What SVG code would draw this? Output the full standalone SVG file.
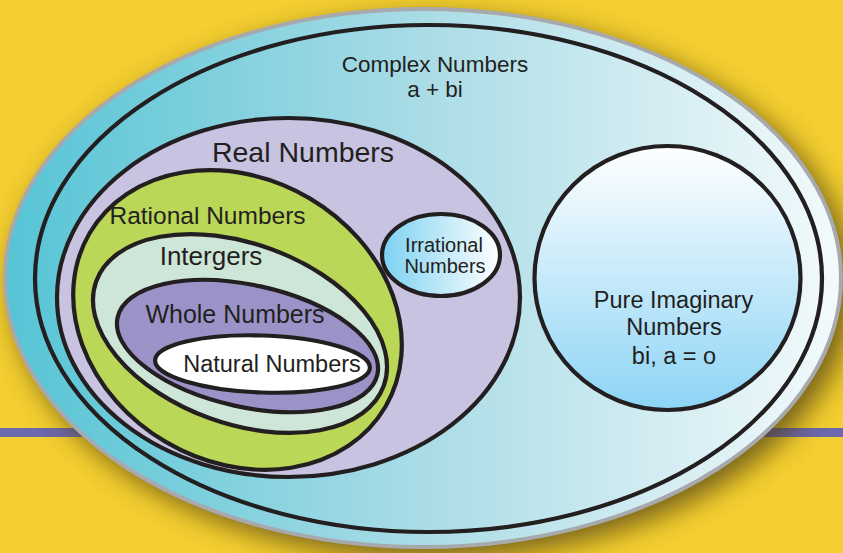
<svg xmlns="http://www.w3.org/2000/svg" width="843" height="553" viewBox="0 0 843 553">
  <defs>
    <linearGradient id="gComplex" x1="0" y1="0" x2="1" y2="0">
      <stop offset="0" stop-color="#55c4d5"/>
      <stop offset="0.5" stop-color="#aadce6"/>
      <stop offset="1" stop-color="#f3fafc"/>
    </linearGradient>
    <linearGradient id="gIrr" x1="0" y1="0" x2="1" y2="0">
      <stop offset="0" stop-color="#7cd1f2"/>
      <stop offset="1" stop-color="#ffffff"/>
    </linearGradient>
    <linearGradient id="gPure" x1="0" y1="0" x2="0" y2="1">
      <stop offset="0" stop-color="#ffffff"/>
      <stop offset="1" stop-color="#8dd4f5"/>
    </linearGradient>
    <filter id="shadow" x="-20%" y="-20%" width="140%" height="140%">
      <feGaussianBlur stdDeviation="14"/>
    </filter>
  </defs>
  <style>
    .ln { stroke: #231f20; stroke-width: 4.2; }
    .t { font-family: "Liberation Sans", Arial, sans-serif; fill: #231f20; text-anchor: middle; }
  </style>

  <rect x="0" y="0" width="843" height="553" fill="#f4cf31"/>
  <rect x="0" y="428" width="843" height="9" fill="#6c69ae"/>
  <ellipse cx="433" cy="288" rx="420" ry="270" fill="#4a3a08" opacity="0.75" filter="url(#shadow)"/>

  <g id="complex">
    <ellipse cx="423" cy="278" rx="418" ry="269" fill="url(#gComplex)" stroke="#a7a9ac" stroke-width="4"/>
    <ellipse class="ln" cx="428.5" cy="278.5" rx="393.5" ry="253.5" fill="none" stroke-width="4.6"/>
    <text class="t" x="435" y="72" font-size="22.5">Complex Numbers</text>
    <text class="t" x="435" y="97" font-size="22.5">a + bi</text>
  </g>

  <g id="real">
    <ellipse class="ln" cx="288.5" cy="297.5" rx="231.5" ry="179.5" fill="#c7c3e0"/>
    <text class="t" x="303" y="162" font-size="28.5">Real Numbers</text>
  </g>

  <g id="rational">
    <ellipse class="ln" cx="0" cy="0" rx="171.5" ry="141.5" fill="#bad757" transform="translate(237.5 320) rotate(30.5)"/>
    <text class="t" x="207.5" y="224" font-size="24.5">Rational Numbers</text>
  </g>

  <g id="integers">
    <ellipse class="ln" cx="0" cy="0" rx="153" ry="90" fill="#cde6d7" transform="translate(240 333.5) rotate(20)"/>
    <text class="t" x="211" y="265" font-size="26">Intergers</text>
  </g>

  <g id="whole">
    <ellipse class="ln" cx="0" cy="0" rx="133" ry="61" fill="#9b93c8" transform="translate(247.5 346) rotate(12.4)"/>
    <text class="t" x="235" y="323" font-size="25">Whole Numbers</text>
  </g>

  <g id="natural">
    <ellipse class="ln" cx="0" cy="0" rx="107.5" ry="28.5" fill="#ffffff" transform="translate(262.5 364) rotate(2)"/>
    <text class="t" x="272" y="372" font-size="23.5">Natural Numbers</text>
  </g>

  <g id="irrational">
    <ellipse class="ln" cx="441" cy="255" rx="59" ry="41" fill="url(#gIrr)"/>
    <text class="t" x="444" y="252" font-size="20">Irrational</text>
    <text class="t" x="445" y="273" font-size="20">Numbers</text>
  </g>

  <g id="pure-imaginary">
    <ellipse class="ln" cx="667.5" cy="278" rx="133" ry="132" fill="url(#gPure)"/>
    <text class="t" x="673.5" y="308" font-size="23.5">Pure Imaginary</text>
    <text class="t" x="674" y="335" font-size="23.5">Numbers</text>
    <text class="t" x="674" y="364" font-size="23.5">bi, a = o</text>
  </g>

  <g id="connectors"/>
</svg>
